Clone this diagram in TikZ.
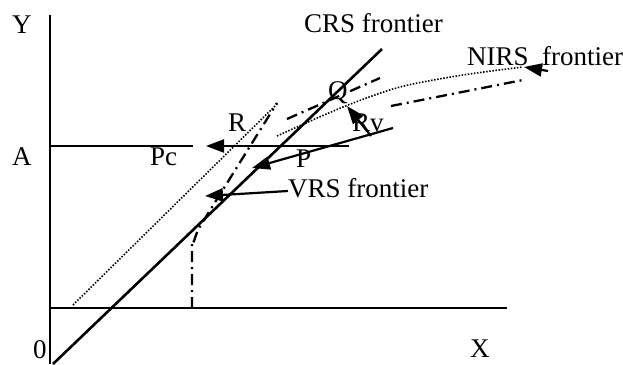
\documentclass[tikz,border=0pt]{standalone}
\usepackage{fontspec}
\setmainfont{Liberation Serif}
\usetikzlibrary{arrows.meta}
\begin{document}
\begin{tikzpicture}[x=1pt,y=-1pt,
  lbl/.style={inner sep=0pt,anchor=base west,font=\fontsize{27}{32}\selectfont},
  axisline/.style={line width=1.5pt},
  thickline/.style={line width=2.3pt},
  crsline/.style={line width=2.6pt},
  dotline/.style={line width=1.6pt,dash pattern=on 1.5pt off 1.6pt},
  dashdotline/.style={line width=2.3pt,dash pattern=on 11pt off 5pt on 2pt off 5pt},
  arr/.style={line width=2.2pt,-{Triangle[length=18pt,width=13pt]}}]
\useasboundingbox (0,0) rectangle (623,364);
% labels
\node[lbl] (Y) at (12,33) {Y};
\node[lbl] (A) at (12,165) {A};
\node[lbl] (O) at (33,358) {0};
\node[lbl] (X) at (470,357) {X};
\node[lbl] (Pc) at (150,165) {Pc};
\node[lbl] (R) at (228,131) {R};
\node[lbl] (Q) at (328,99) {Q};
\node[lbl] (P) at (296,167) {P};
\node[lbl] (Rv) at (352,131) {Rv};
\node[lbl] (vrs) at (288,197) {VRS frontier};
\node[lbl] (crs) at (304,32) {CRS frontier};
\node[lbl] (nirs) at (467,65) {NIRS};
\node[lbl] (nirsf) at (542,65) {frontier};
% coordinates
\coordinate (yt) at (50,15);
\coordinate (yb) at (50,364);
\coordinate (xl) at (50,308);
\coordinate (xr) at (507,308);
\coordinate (al) at (50,146);
\coordinate (ar) at (193,146);
\coordinate (pr) at (349,146);
\coordinate (pct) at (206,146);
\coordinate (crsb) at (53,364);
\coordinate (crst) at (382,49);
\coordinate (d1b) at (73,305);
\coordinate (d1t) at (278,103);
\coordinate (vb) at (192,308);
\coordinate (vm) at (192,243);
\coordinate (vj) at (199,228);
\coordinate (vt) at (277,103);
\coordinate (q1) at (287,119);
\coordinate (q2) at (380,78);
\coordinate (f1) at (391,106);
\coordinate (f2) at (523,80);
\coordinate (ps) at (393,128);
\coordinate (pe) at (252,168);
\coordinate (vrss) at (288,191);
\coordinate (vrse) at (205,196);
\coordinate (rvs) at (371,136);
\coordinate (rve) at (347,106);
\coordinate (ns) at (548,71);
\coordinate (ne) at (524,67);
% axes
\draw[axisline] (yt) -- (yb);
\draw[thickline] (xl) -- (xr);
\draw[thickline] (al) -- (ar);
% CRS
\draw[crsline] (crsb) -- (crst);
% dotted lines
\draw[dotline] (d1b) -- (d1t);
\draw[dotline] plot[smooth] coordinates {(277,136) (343,107) (400,87) (463,75) (523,67)};
% dash-dot lines
\draw[dashdotline] (vb) -- (vm) to[out=-90,in=-120] (vj) -- (vt);
\draw[dashdotline] (q1) -- (q2);
\draw[dashdotline] (f1) -- (f2);
% arrows
\draw[arr] (pr) -- (pct);
\draw[arr] (ps) -- (pe);
\draw[arr] (vrss) -- (vrse);
\draw[arr] (rvs) -- (rve);
\draw[arr] (ns) -- (ne);
\end{tikzpicture}
\end{document}
